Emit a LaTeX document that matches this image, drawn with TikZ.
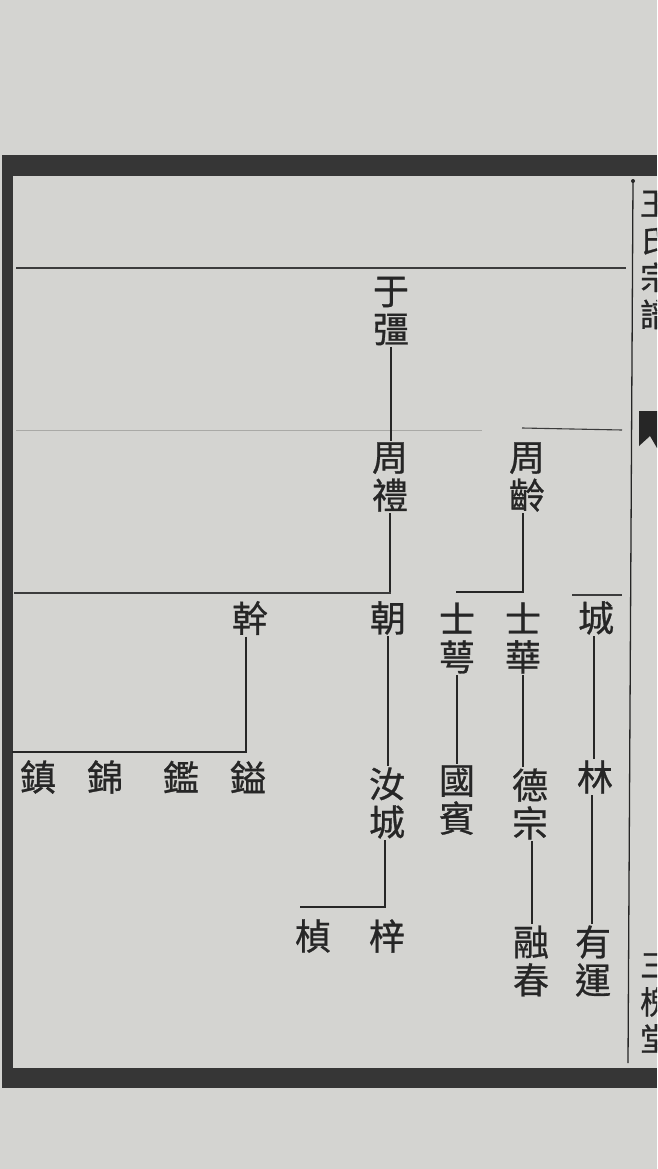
\documentclass[tikz,border=0pt]{standalone}
\usepackage{fontspec}
\newfontfamily\cjk[FakeBold=0.8]{Noto Sans CJK TC}
\definecolor{paper}{HTML}{D4D4D1}
\definecolor{ink}{HTML}{262626}
\definecolor{framecol}{HTML}{363636}
\definecolor{faint}{HTML}{A9A9A6}
\begin{document}
\begin{tikzpicture}[x=1pt,y=-1pt,
  person/.style={font=\cjk\fontsize{36}{38}\selectfont, text=ink, inner sep=1.5pt, align=center},
  margintext/.style={font=\cjk\fontsize{32}{37}\selectfont, text=ink, inner sep=0pt, align=center},
  link/.style={draw=ink, line width=1.2pt},
  rulel/.style={draw=ink!90, line width=1.1pt},
  faintrule/.style={draw=faint, line width=1pt},
  ]
\useasboundingbox (0,0) rectangle (657,1169);
\clip (0,0) rectangle (657,1169);
\fill[paper] (0,0) rectangle (657,1169);

% heavy frame
\fill[framecol] (2,155) rectangle (657,176);
\fill[framecol] (2,155) rectangle (13,1088);
\fill[framecol] (2,1068) rectangle (657,1088);
% right thin border line
\coordinate (rtop) at (633,181);
\coordinate (rbot) at (628,1063);
\draw[draw=ink, line width=1.3pt] (rtop) -- (rbot);
\fill[ink] (rtop) circle (2pt);

% margin (banxin) texts, cut at the page edge as in the original
\node[margintext] (title) at (656,260) {王\\氏\\宗\\譜};
\fill[ink] (639,411) -- (657,411) -- (657,448) -- (650,436) -- (639,446) -- cycle;
\node[margintext] (hall) at (656,1003) {三\\槐\\堂};

% generation rules
\coordinate (r1L) at (16,268);
\coordinate (r1R) at (626,268);
\draw[rulel] (r1L) -- (r1R);
\coordinate (r2L) at (16,430);
\coordinate (r2R) at (482,430);
\draw[faintrule] (r2L) -- (r2R);

% persons
\node[person] (yujiang) at (391,311) {于\\彊};
\node[person] (zhouli) at (390,477) {周\\禮};
\node[person] (zhouling) at (527,477) {周\\齡};
\node[person] (chao) at (388,618) {朝};
\node[person] (gan) at (250,618) {幹};
\node[person] (shie) at (457,638) {士\\萼};
\node[person] (shihua) at (523,638) {士\\華};
\node[person] (cheng) at (596,618) {城};
\node[person] (zhen) at (38,777) {鎮};
\node[person] (jin) at (105,777) {錦};
\node[person] (jian) at (181,777) {鑑};
\node[person] (yi) at (248,777) {鎰};
\node[person] (rucheng) at (387,803) {汝\\城};
\node[person] (guobin) at (457,800) {國\\賓};
\node[person] (dezong) at (530,804) {德\\宗};
\node[person] (lin) at (595,777) {林};
\node[person] (zhenb) at (313,936) {楨};
\node[person] (zi) at (387,936) {梓};
\node[person] (rongchun) at (531,961) {融\\春};
\node[person] (youyun) at (593,961) {有\\運};

% 于彊 -> 周禮
\draw[link] (yujiang.south) -- (yujiang.south |- zhouli.north);
% 周禮 -> 朝 / 幹 (row rule)
\coordinate (r3L) at (14,593);
\coordinate (r3R) at (391,593);
\draw[link] (zhouli.south) -- (zhouli.south |- r3R);
\draw[rulel] (r3L) -- (r3R);
% 周齡 branch
\coordinate (zlL) at (522,428);
\coordinate (zlR) at (622,430);
\draw[rulel] (zlL) -- (zlR);
\coordinate (zlbar) at (456,592);
\draw[link] ([xshift=-4pt]zhouling.south) |- (zlbar);
% 城 branch rule
\coordinate (chL) at (572,595);
\coordinate (chR) at (622,595);
\draw[rulel] (chL) -- (chR);
% 朝 -> 汝城
\draw[link] (chao.south) -- (chao.south |- rucheng.north);
% 幹 -> sons
\coordinate (ganbar) at (12,752);
\draw[link] ([xshift=-4pt]gan.south) |- (ganbar);
% 士萼 -> 國賓
\draw[link] (shie.south) -- (shie.south |- guobin.north);
% 士華 -> 德宗
\draw[link] (shihua.south) -- (shihua.south |- dezong.north);
% 城 -> 林 -> 有運
\draw[link] ([xshift=-2pt]cheng.south) -- ([xshift=-2pt]cheng.south |- lin.north);
\draw[link] ([xshift=-3pt]lin.south) -- ([xshift=-3pt]lin.south |- youyun.north);
% 德宗 -> 融春
\draw[link] ([xshift=2pt]dezong.south) -- ([xshift=2pt]dezong.south |- rongchun.north);
% 汝城 -> 梓, 楨
\coordinate (rcbar) at (300,907);
\draw[link] ([xshift=-2pt]rucheng.south) |- (rcbar);
\end{tikzpicture}
\end{document}
